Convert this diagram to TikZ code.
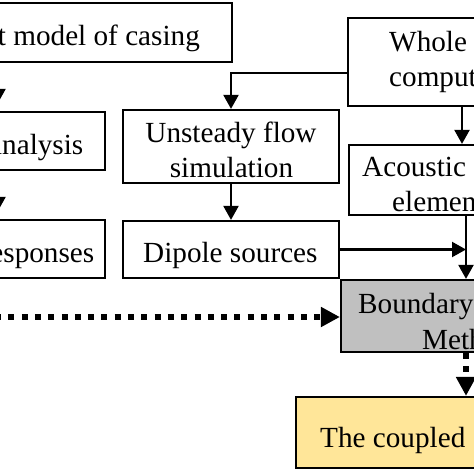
\documentclass[tikz,border=0pt]{standalone}
\usepackage{fontspec}
\setmainfont{Liberation Serif}
\usetikzlibrary{arrows.meta,fit}
\definecolor{bemgrey}{HTML}{C0C0C0}
\definecolor{coupyellow}{HTML}{FFE699}
\tikzset{
  box/.style={draw, line width=2.2pt, inner sep=0pt},
  txt/.style={inner sep=0pt, font=\fontsize{29.2}{35}\selectfont},
  arr/.style={line width=2.2pt, -{Triangle[width=15pt,length=14pt]}},
  dotarr/.style={line width=6.5pt, dash pattern=on 6pt off 7.3pt, -{Triangle[width=19pt,length=19pt]}}
}
\begin{document}
\begin{tikzpicture}[x=1pt,y=-1pt]
\useasboundingbox (0,0) rectangle (474,474);
\clip (0,0) rectangle (474,474);
% boxes
\node[box, fit={(-60,3) (232,62)}] (fem) {};
\node[box, fit={(-60,112) (105,170)}] (modal) {};
\node[box, fit={(-60,220) (105,278)}] (resp) {};
\node[box, fit={(123,110) (339,183)}] (unst) {};
\node[box, fit={(123,221) (339,278)}] (dip) {};
\node[box, fit={(348,18) (600,106)}] (whole) {};
\node[box, fit={(349,145) (600,215)}] (acou) {};
\node[box, fill=bemgrey, fit={(341,280) (596,352)}] (bem) {};
\node[box, fill=coupyellow, fit={(296,397) (640,468)}] (coup) {};
% texts
\node[txt, anchor=base east] (femT) at (200,45.5) {Finite element model of casing};
\node[txt, anchor=base east] (modalT) at (83.5,154) {Modal analysis};
\node[txt, anchor=base east] (respT) at (94.5,262) {Vibration responses};
\node[txt, anchor=base] (unstA) at (231,142) {Unsteady flow};
\node[txt, anchor=base] (unstB) at (231.5,177) {simulation};
\node[txt, anchor=base west] (dipT) at (143,262.5) {Dipole sources};
\node[txt, anchor=base west] (wholeA) at (389,51) {Whole};
\node[txt, anchor=base west] (wholeB) at (389,86) {computational};
\node[txt, anchor=base west] (acouA) at (362,176) {Acoustic finite};
\node[txt, anchor=base west] (acouB) at (392,211.5) {element};
\node[txt, anchor=base west] (bemA) at (358,313) {Boundary Element};
\node[txt, anchor=base west] (bemB) at (422,349) {Method};
\node[txt, anchor=base west] (coupT) at (320,447) {The coupled};
% helper coordinates
\coordinate (xL) at (-2,0);
\coordinate (y73) at (0,73);
\coordinate (x462) at (462,0);
\coordinate (x466) at (466,0);
\coordinate (dotstart) at (-5,317);
% connectors
\draw[arr, shorten >=8pt] (fem.south -| xL) -- (modal.north -| xL);
\draw[arr, shorten >=8pt] (modal.south -| xL) -- (resp.north -| xL);
\draw[arr] (whole.west |- y73) -| (unst.north);
\draw[arr] (unst.south) -- (dip.north);
\draw[arr] (whole.south -| x462) -- (acou.north -| x462);
\draw[arr] (acou.south -| x466) -- (bem.north -| x466);
\draw[arr] (dip.east) -- (dip.east -| x466);
\draw[dotarr] (dotstart) -- (dotstart -| bem.west);
\draw[dotarr] (bem.south -| x466) -- (coup.north -| x466);
\end{tikzpicture}
\end{document}
